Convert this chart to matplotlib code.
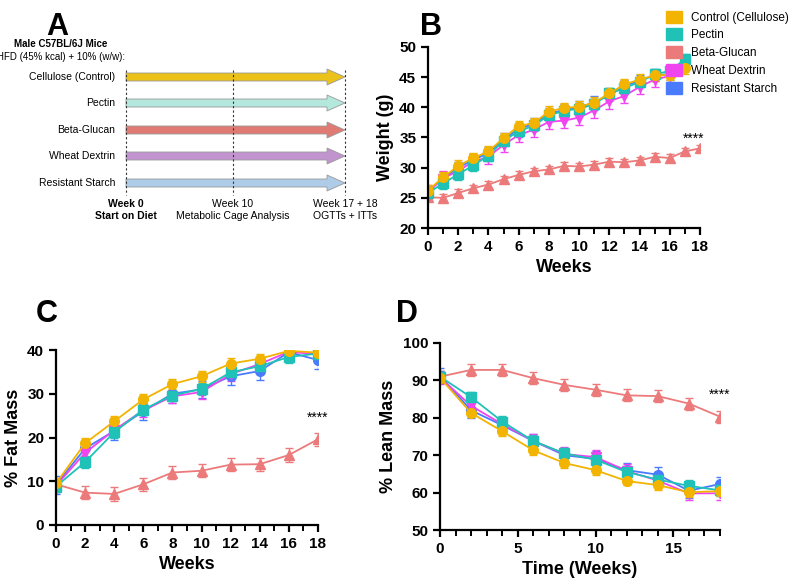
import matplotlib
matplotlib.use("Agg")
from matplotlib import pyplot as plt
from matplotlib.patches import FancyArrow

plt.rcParams["font.family"] = ["Liberation Sans", "DejaVu Sans"]

GROUPS = ["Control (Cellulose)", "Pectin", "Beta-Glucan", "Wheat Dextrin", "Resistant Starch"]
COLORS = ["#F2B400", "#20C2B8", "#EC7A7A", "#F044F0", "#4A7BFF"]
MARKERS = ["o", "s", "^", "v", "o"]
ARROW_COLORS = ["#EBC21A", "#B4E8DC", "#E07B74", "#C194D0", "#AECBE8"]
ARROW_LABELS = ["Cellulose (Control)", "Pectin", "Beta-Glucan", "Wheat Dextrin", "Resistant Starch"]

# Panel B: body weight
weeks_b = list(range(19))
weight = {
    "Control (Cellulose)": [26.2, 28.4, 30.3, 31.6, 32.7, 34.9, 36.9, 37.4, 39.3, 39.9, 40.1, 40.8, 42.3, 43.8, 44.6, 45.3, 45.4, 46.5],
    "Pectin": [25.8, 27.4, 28.9, 30.4, 32.0, 34.5, 36.0, 37.0, 38.7, 39.4, 39.8, 40.5, 42.3, 43.2, 44.2, 45.5, 46.0, 48.0],
    "Beta-Glucan": [25.1, 25.0, 25.8, 26.6, 27.2, 28.1, 28.8, 29.4, 29.7, 30.3, 30.2, 30.5, 31.0, 30.9, 31.2, 31.8, 31.6, 32.7, 33.2],
    "Wheat Dextrin": [26.0, 28.2, 29.5, 31.0, 31.8, 33.8, 35.4, 36.3, 37.6, 37.8, 38.3, 39.5, 41.0, 41.9, 43.4, 44.6, 45.2, 47.3],
    "Resistant Starch": [26.0, 28.3, 30.0, 31.3, 32.4, 34.7, 36.4, 37.3, 38.9, 39.6, 40.0, 40.8, 42.0, 43.5, 44.4, 45.3, 45.5, 47.6],
}
weight_err = {"Control (Cellulose)": 0.9, "Pectin": 0.9, "Beta-Glucan": 0.6, "Wheat Dextrin": 1.2, "Resistant Starch": 1.0}

# Panel C / D: body composition
weeks_cd = [0, 2, 4, 6, 8, 10, 12, 14, 16, 18]
fat = {
    "Control (Cellulose)": [9.5, 18.7, 23.7, 28.7, 32.2, 34.0, 36.9, 38.0, 39.8, 39.4],
    "Pectin": [8.8, 14.4, 21.2, 26.4, 29.6, 31.1, 34.9, 36.3, 38.4, 39.2],
    "Beta-Glucan": [9.3, 7.4, 7.1, 9.3, 12.0, 12.4, 13.8, 13.9, 16.0, 19.6],
    "Wheat Dextrin": [9.0, 16.5, 21.7, 26.2, 29.4, 30.4, 34.5, 36.8, 39.6, 39.0],
    "Resistant Starch": [9.2, 17.5, 21.5, 26.0, 30.0, 31.0, 34.0, 35.2, 39.5, 37.7],
}
fat_err = {"Control (Cellulose)": 1.2, "Pectin": 1.3, "Beta-Glucan": 1.5, "Wheat Dextrin": 1.5, "Resistant Starch": 2.0}
lean = {
    "Control (Cellulose)": [90.7, 81.3, 76.4, 71.3, 67.9, 66.0, 63.1, 62.0, 60.1, 60.4],
    "Pectin": [91.0, 85.5, 79.0, 73.8, 70.5, 68.8, 65.5, 63.5, 61.8, 60.6],
    "Beta-Glucan": [91.0, 92.8, 92.8, 90.6, 88.8, 87.5, 86.0, 85.8, 83.8, 80.3],
    "Wheat Dextrin": [90.8, 83.2, 78.3, 73.8, 70.3, 69.5, 65.8, 63.2, 59.8, 59.8],
    "Resistant Starch": [91.2, 82.0, 78.0, 73.8, 70.0, 69.0, 66.0, 64.8, 60.5, 62.3],
}
lean_err = {"Control (Cellulose)": 1.2, "Pectin": 1.5, "Beta-Glucan": 1.6, "Wheat Dextrin": 1.8, "Resistant Starch": 2.0}


def rect(left, top, right, bottom):
    return [left / 800, 1 - bottom / 580, (right - left) / 800, (bottom - top) / 580]


def style(ax):
    for s in ("top", "right"):
        ax.spines[s].set_visible(False)
    for s in ("left", "bottom"):
        ax.spines[s].set_linewidth(1.6)
    ax.tick_params(width=1.6, length=5, labelsize=11)
    ax.tick_params(which="minor", length=4, width=1.4)
    for lab in ax.get_xticklabels() + ax.get_yticklabels():
        lab.set_fontweight("bold")


def draw_series(ax, x, data, err, ms=7):
    order = ["Resistant Starch", "Wheat Dextrin", "Beta-Glucan", "Pectin", "Control (Cellulose)"]
    for name in order:
        i = GROUPS.index(name)
        y = data[name]
        ax.errorbar(x[:len(y)], y, yerr=err[name], color=COLORS[i], marker=MARKERS[i],
                    markersize=ms, linewidth=1.3, capsize=3, elinewidth=1, label=name)


fig = plt.figure(figsize=(8, 5.8), dpi=100, facecolor="white")

# Panel A
axa = fig.add_axes(rect(0, 0, 400, 260))
axa.set_xlim(0, 400)
axa.set_ylim(260, 0)
axa.axis("off")
fig.text(0.058, 0.94, "A", fontsize=22, fontweight="bold")
axa.text(61, 44, "Male C57BL/6J Mice", fontsize=7, fontweight="bold", ha="center", va="center")
axa.text(61, 57, "HFD (45% kcal) + 10% (w/w):", fontsize=7, ha="center", va="center")
rows_y = [77, 103, 130, 156, 183]
for y, lab, col in zip(rows_y, ARROW_LABELS, ARROW_COLORS):
    axa.add_patch(FancyArrow(126, y, 219, 0, width=8, head_width=16, head_length=18,
                             length_includes_head=True, facecolor=col, edgecolor="#999999", linewidth=0.6))
    axa.text(115, y, lab, fontsize=7.5, ha="right", va="center")
for xv in (126, 233, 345):
    axa.plot([xv, xv], [70, 195], color="#333333", linestyle=(0, (2, 2)), linewidth=0.8)
axa.text(126, 199, "Week 0\nStart on Diet", fontsize=7.5, fontweight="bold", ha="center", va="top", linespacing=1.2)
axa.text(233, 199, "Week 10\nMetabolic Cage Analysis", fontsize=7.5, ha="center", va="top", linespacing=1.2)
axa.text(345, 199, "Week 17 + 18\nOGTTs + ITTs", fontsize=7.5, ha="center", va="top", linespacing=1.2)

# Panel B
axb = fig.add_axes(rect(428, 47, 700, 228))
draw_series(axb, weeks_b, weight, weight_err)
axb.set_xlim(0, 18)
axb.set_ylim(20, 50)
axb.set_xticks(range(0, 19, 2))
axb.set_xticks(range(0, 19), minor=True)
axb.set_yticks(range(20, 51, 5))
axb.set_xlabel("Weeks", fontsize=13, fontweight="bold")
axb.set_ylabel("Weight (g)", fontsize=13, fontweight="bold")
axb.text(17.6, 34.2, "****", fontsize=10, ha="center")
style(axb)
fig.text(0.525, 0.94, "B", fontsize=22, fontweight="bold")
handles = [plt.Rectangle((0, 0), 1, 1, color=c) for c in COLORS]
fig.legend(handles, GROUPS, loc="upper right", bbox_to_anchor=(1.0, 1.0), frameon=False,
           fontsize=8.5, handlelength=1.4, handleheight=1.2, labelspacing=0.4)

# Panel C
axc = fig.add_axes(rect(56, 350, 318, 525))
draw_series(axc, weeks_cd, fat, fat_err)
axc.set_xlim(0, 18)
axc.set_ylim(0, 40)
axc.set_xticks(weeks_cd)
axc.set_xticks(range(0, 19), minor=True)
axc.set_yticks(range(0, 41, 10))
axc.set_xlabel("Weeks", fontsize=13, fontweight="bold")
axc.set_ylabel("% Fat Mass", fontsize=13, fontweight="bold")
axc.text(18, 23.5, "****", fontsize=10, ha="center")
style(axc)
fig.text(0.045, 0.445, "C", fontsize=22, fontweight="bold")

# Panel D
axd = fig.add_axes(rect(440, 343, 720, 530))
draw_series(axd, weeks_cd, lean, lean_err)
axd.set_xlim(0, 18)
axd.set_ylim(50, 100)
axd.set_xticks(range(0, 19, 5))
axd.set_xticks(range(0, 19), minor=True)
axd.set_yticks(range(50, 101, 10))
axd.set_xlabel("Time (Weeks)", fontsize=13, fontweight="bold")
axd.set_ylabel("% Lean Mass", fontsize=13, fontweight="bold")
axd.text(18, 85.0, "****", fontsize=10, ha="center")
style(axd)
fig.text(0.495, 0.445, "D", fontsize=22, fontweight="bold")

fig.savefig("out.png", dpi=100, facecolor="white")
